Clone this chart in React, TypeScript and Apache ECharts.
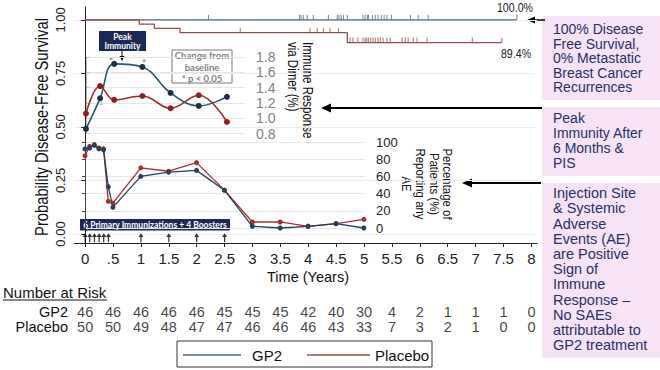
import React, { useEffect, useRef } from "react";
import * as echarts from "echarts";

// ---------- data ----------
const yearTicks = [0, 0.5, 1, 1.5, 2, 2.5, 3, 3.5, 4, 4.5, 5, 5.5, 6, 6.5, 7, 7.5, 8];
const survTicks = [0, 0.25, 0.5, 0.75, 1];

const kmGp2Times = [0, 7.74];
const kmGp2Surv = [1, 1];
const kmPlaceboTimes = [0, 0.97, 1.24, 1.7, 4.7, 7.47];
const kmPlaceboSurv = [1, 0.98, 0.96, 0.94, 0.894, 0.894];

const gp2Censor = [2.21, 3.84, 3.87, 3.91, 3.98, 4.09, 4.36, 4.52, 4.55, 4.59, 4.63, 4.7, 4.98, 5.02, 5.06, 5.08, 5.15, 5.2, 5.25, 5.31, 5.36, 5.41, 5.49, 5.83, 5.97, 6.15, 7.74];
const placeboCensor = [2.78, 4.03, 4.16, 4.27, 4.39, 4.54, 4.75, 4.8, 4.89, 4.98, 5.02, 5.05, 5.08, 5.12, 5.16, 5.2, 5.25, 5.29, 5.34, 5.41, 5.47, 5.68, 5.74, 5.79, 5.88, 5.95, 6.13, 6.94, 7.47];

const immuneTimes = [0, 0.25, 0.5, 1, 1.5, 2, 2.5];
const immuneGp2 = [0.86, 1.26, 1.71, 1.67, 1.33, 1.16, 1.28];
const immunePlacebo = [1.06, 1.42, 1.24, 1.29, 1.13, 1.3, 0.95];
const immuneTicks = [0.8, 1.0, 1.2, 1.4, 1.6, 1.8];

const aeTimes = [0, 0.083, 0.167, 0.25, 0.333, 0.417, 0.5, 1, 1.5, 2, 2.5, 3, 3.5, 4, 4.5, 5];
const aeGp2 = [92, 93, 96, 92, 91, 48, 24, 60, 65, 67, 44, 2, 0, 2, 5, 0];
const aePlacebo = [84, 95, 97, 93, 92, 31, 29, 70, 66, 76, 44, 7, 7, 2, 5, 10];

const doseTimes = [0, 0.083, 0.167, 0.25, 0.333, 0.417, 1, 1.5, 2, 2.5];

const riskGroups = ["GP2", "Placebo"];
const riskGp2 = [46, 46, 46, 46, 46, 45, 45, 45, 42, 40, 30, 4, 2, 1, 1, 1, 0];
const riskPlacebo = [50, 50, 49, 48, 47, 47, 46, 46, 46, 43, 33, 7, 3, 2, 1, 0, 0];

// ---------- styles ----------
const FONT = "'Liberation Sans', Arial, sans-serif";
const CAL = "Lato, 'Open Sans', sans-serif";
const NS = 0.82; // narrow-font compression
const C_GP2_KM = "#4d6b7f";
const C_PL_KM = "#94504b";
const C_GP2 = "#24405c";
const C_PL = "#a1302d";
const NAVY = "#1b2a55";
const PINK = "#f7e3f5";
const BOXTEXT = "#23316b";

function survAt(times: number[], surv: number[], t: number) {
  let s = surv[0];
  for (let i = 0; i < times.length; i++) if (times[i] <= t) s = surv[i];
  return s;
}

function buildOption() {
  const kmGp2 = kmGp2Times.map((t, i) => [t, kmGp2Surv[i]]);
  const kmPl = kmPlaceboTimes.map((t, i) => [t, kmPlaceboSurv[i]]);
  const censorSym = { symbol: "rect", symbolSize: [1, 5], symbolOffset: [0, -2.5] };

  const arrowUp = "path://M5,0 L10,5 L6.2,5 L6.2,12 L3.8,12 L3.8,5 L0,5 Z";

  const graphic: any[] = [
    // pink boxes
    { type: "rect", shape: { x: 542, y: 16, width: 118, height: 84 }, style: { fill: PINK } },
    { type: "rect", shape: { x: 542, y: 107, width: 118, height: 69 }, style: { fill: PINK } },
    { type: "rect", shape: { x: 542, y: 183, width: 118, height: 175 }, style: { fill: PINK } },
    { type: "text", x: 553, y: 21.7, style: { text: "100% Disease\nFree Survival,\n0% Metastatic\nBreast Cancer\nRecurrences", font: `14px ${FONT}`, fill: BOXTEXT, lineHeight: 14.6, verticalAlign: "top" } },
    { type: "text", x: 553, y: 110, style: { text: "Peak\nImmunity After\n6 Months &\nPIS", font: `14px ${FONT}`, fill: BOXTEXT, lineHeight: 15, verticalAlign: "top" } },
    { type: "text", x: 553, y: 185.5, style: { text: "Injection Site\n& Systemic\nAdverse\nEvents (AE)\nare Positive\nSign of\nImmune\nResponse \u2013\nNo SAEs\nattributable to\nGP2 treatment", font: `14.5px ${FONT}`, fill: BOXTEXT, lineHeight: 15.2, verticalAlign: "top" } },
    // arrows
    { type: "line", shape: { x1: 545, y1: 20, x2: 531, y2: 20 }, style: { stroke: "#000", lineWidth: 1.5 } },
    { type: "polygon", shape: { points: [[527, 20], [535, 16.5], [535, 23.5]] }, style: { fill: "#000" } },
    { type: "line", shape: { x1: 542, y1: 108, x2: 327, y2: 108 }, style: { stroke: "#000", lineWidth: 2 } },
    { type: "polygon", shape: { points: [[321, 108], [331, 103.5], [331, 112.5]] }, style: { fill: "#000" } },
    { type: "line", shape: { x1: 541, y1: 183, x2: 468, y2: 183 }, style: { stroke: "#000", lineWidth: 2 } },
    { type: "polygon", shape: { points: [[462, 183], [472, 178.5], [472, 187.5]] }, style: { fill: "#000" } },
    // peak immunity
    { type: "rect", shape: { x: 99, y: 31, width: 47, height: 20 }, style: { fill: NAVY } },
    { type: "text", x: 122.5, y: 36.6, style: { text: "Peak", font: `bold 8.5px ${CAL}`, fill: "#fff", align: "center", verticalAlign: "middle" } },
    { type: "text", x: 122.5, y: 45.6, style: { text: "Immunity", font: `bold 8.5px ${CAL}`, fill: "#fff", align: "center", verticalAlign: "middle" } },
    { type: "line", shape: { x1: 122, y1: 51, x2: 122, y2: 57 }, style: { stroke: "#000", lineWidth: 1 } },
    { type: "polygon", shape: { points: [[122, 61], [119.5, 56], [124.5, 56]] }, style: { fill: "#000" } },
    // change from baseline box
    { type: "rect", shape: { x: 172, y: 50, width: 60, height: 33 }, style: { fill: "#fff", stroke: "#777", lineWidth: 1 } },
    { type: "text", x: 202, y: 67, style: { text: "Change from\nbaseline\n* p < 0.05", font: `bold 9.5px ${CAL}`, fill: "#808080", lineHeight: 11.5, align: "center", verticalAlign: "middle" } },
    { type: "text", x: 111, y: 60, style: { text: "*", font: `bold 10px ${CAL}`, fill: "#808080", align: "center", verticalAlign: "middle" } },
    { type: "text", x: 144, y: 62, style: { text: "*", font: `bold 10px ${CAL}`, fill: "#808080", align: "center", verticalAlign: "middle" } },
    { type: "text", x: 101, y: 105, style: { text: "*", font: `bold 10px ${CAL}`, fill: "#808080", align: "center", verticalAlign: "middle" } },
    // inset titles (narrow look via scaleX along reading direction)
    { type: "text", x: 300.5, y: 42, rotation: -Math.PI / 2, scaleX: NS, style: { text: "Immune Response\nvia Dimer (%)", font: `14px ${FONT}`, fill: "#111", lineHeight: 15, align: "left", verticalAlign: "middle" } },
    { type: "text", x: 427, y: 184, rotation: -Math.PI / 2, scaleX: 0.88, style: { text: "Percentage of\nPatients (%)\nReporting any\nAE", font: `13px ${FONT}`, fill: "#111", lineHeight: 13.8, align: "center", verticalAlign: "middle" } },
    // immunizations box
    { type: "rect", shape: { x: 80, y: 219, width: 150, height: 11.5 }, style: { fill: NAVY } },
    { type: "text", x: 155, y: 224.9, style: { text: "6 Primary Immunizations + 4 Boosters", font: `bold 8.5px ${CAL}`, fill: "#fff", align: "center", verticalAlign: "middle" } },
    // axis titles
    { type: "text", x: 41, y: 127, rotation: Math.PI / 2, scaleX: NS, style: { text: "Probability Disease-Free Survival", font: `18px ${FONT}`, fill: "#111", align: "center", verticalAlign: "middle" } },
    { type: "text", x: 308, y: 277, style: { text: "Time (Years)", font: `14.5px ${FONT}`, fill: "#111", align: "center", verticalAlign: "middle" } },
    { type: "text", x: 515, y: 7.5, scaleX: NS, style: { text: "100.0%", font: `13px ${FONT}`, fill: "#222", align: "center", verticalAlign: "middle" } },
    { type: "text", x: 516, y: 53.5, scaleX: NS, style: { text: "89.4%", font: `13px ${FONT}`, fill: "#222", align: "center", verticalAlign: "middle" } },
    // number at risk
    { type: "text", x: 3, y: 292, style: { text: "Number at Risk", font: `15px ${FONT}`, fill: "#111", align: "left", verticalAlign: "middle" } },
    { type: "line", shape: { x1: 3, y1: 300, x2: 107, y2: 300 }, style: { stroke: "#111", lineWidth: 1 } },
    // legend
    { type: "rect", shape: { x: 177, y: 341, width: 255, height: 26 }, style: { fill: "#fff", stroke: "#333", lineWidth: 1 } },
    { type: "line", shape: { x1: 183, y1: 355, x2: 241, y2: 355 }, style: { stroke: C_GP2_KM, lineWidth: 1.5 } },
    { type: "text", x: 252, y: 355, style: { text: "GP2", font: `15px ${FONT}`, fill: "#111", align: "left", verticalAlign: "middle" } },
    { type: "line", shape: { x1: 307, y1: 355, x2: 370, y2: 355 }, style: { stroke: C_PL_KM, lineWidth: 1.5 } },
    { type: "text", x: 375, y: 355, style: { text: "Placebo", font: `15px ${FONT}`, fill: "#111", align: "left", verticalAlign: "middle" } },
  ];

  return {
    animation: false,
    backgroundColor: "#fff",
    graphic,
    grid: [
      { left: 74, right: 123, top: 7, bottom: 127 },
      { left: 86, right: 415, top: 57, bottom: 236.5 },
      { left: 85, right: 295, top: 142, bottom: 142 },
      { left: 74, right: 123, top: 304, bottom: 35 },
    ],
    xAxis: [
      {
        gridIndex: 0, type: "value", min: -0.2, max: 8.1,
        axisLine: { show: true, onZero: false, lineStyle: { color: "#222", width: 1 } },
        axisTick: { show: true, length: 4, customValues: yearTicks, lineStyle: { color: "#222" } },
        axisLabel: {
          customValues: yearTicks, margin: 8, color: "#222", fontFamily: FONT, fontSize: 15,
          formatter: (v: number) => (v > 0 && v < 1 ? String(v).replace("0.", ".") : String(v)),
        },
        splitLine: { show: false },
      },
      { gridIndex: 1, type: "value", min: 0, max: 2.82, show: false },
      { gridIndex: 2, type: "value", min: 0, max: 5.02, show: false },
      { gridIndex: 3, type: "value", min: -0.2, max: 8.1, show: false },
    ],
    yAxis: [
      {
        gridIndex: 0, type: "value", min: -0.042, max: 1.06,
        axisLine: { show: true, lineStyle: { color: "#222", width: 1 } },
        axisTick: { show: true, length: 4, customValues: survTicks, lineStyle: { color: "#222" } },
        axisLabel: { customValues: survTicks, rotate: 90, margin: 7, color: "#222", fontFamily: FONT, fontSize: 13, formatter: (v: number) => v.toFixed(2) },
        splitLine: { show: true, lineStyle: { color: "#ececec", width: 1 } },
      },
      {
        gridIndex: 1, type: "value", position: "right", min: 0.8, max: 1.8,
        axisLine: { show: true, lineStyle: { color: "#bbb" } },
        axisTick: { show: true, length: 3, customValues: immuneTicks, lineStyle: { color: "#bbb" } },
        axisLabel: { customValues: immuneTicks, margin: 11, color: "#7f7f7f", fontFamily: FONT, fontSize: 14, formatter: (v: number) => v.toFixed(1) },
        splitLine: { show: true, lineStyle: { color: "#e6e6e6" } },
      },
      {
        gridIndex: 2, type: "value", position: "right", min: 0, max: 100, interval: 20,
        axisLine: { show: true, lineStyle: { color: "#444" } },
        axisTick: { show: true, length: 3, inside: true, lineStyle: { color: "#444" } },
        axisLabel: { margin: 11, color: "#222", fontFamily: FONT, fontSize: 13 },
        splitLine: { show: true, lineStyle: { color: "#e6e6e6" } },
      },
      {
        gridIndex: 3, type: "category", inverse: true, data: riskGroups,
        axisLine: { show: false }, axisTick: { show: false },
        axisLabel: { interval: 0, margin: 6, color: "#111", fontFamily: FONT, fontSize: 14.5 },
        splitLine: { show: false },
      },
    ],
    series: [
      // KM curves
      { type: "line", xAxisIndex: 0, yAxisIndex: 0, step: "end", data: kmGp2, showSymbol: false, lineStyle: { color: C_GP2_KM, width: 1.3 }, z: 3 },
      { type: "line", xAxisIndex: 0, yAxisIndex: 0, step: "end", data: kmPl, showSymbol: false, lineStyle: { color: C_PL_KM, width: 1.3 }, z: 3 },
      { type: "scatter", xAxisIndex: 0, yAxisIndex: 0, ...censorSym, itemStyle: { color: C_GP2_KM }, data: gp2Censor.map((t) => [t, survAt(kmGp2Times, kmGp2Surv, t)]), z: 3 },
      { type: "scatter", xAxisIndex: 0, yAxisIndex: 0, ...censorSym, itemStyle: { color: C_PL_KM }, data: placeboCensor.map((t) => [t, survAt(kmPlaceboTimes, kmPlaceboSurv, t)]), z: 3 },
      // dose arrows
      { type: "scatter", xAxisIndex: 0, yAxisIndex: 0, symbol: arrowUp, symbolSize: [5, 9], itemStyle: { color: "#000" }, data: doseTimes.map((t) => [t, -0.017]), z: 4 },
      // immune inset
      { type: "line", xAxisIndex: 1, yAxisIndex: 1, smooth: 0.4, clip: false, data: immuneTimes.map((t, i) => [t, immunePlacebo[i]]), symbol: "circle", symbolSize: 6, lineStyle: { color: C_PL, width: 1.6 }, itemStyle: { color: "#8e1f1f" } },
      { type: "line", xAxisIndex: 1, yAxisIndex: 1, smooth: 0.4, clip: false, data: immuneTimes.map((t, i) => [t, immuneGp2[i]]), symbol: "circle", symbolSize: 6, lineStyle: { color: "#2d5670", width: 1.6 }, itemStyle: { color: "#1b2f4a" } },
      // AE panel
      { type: "line", xAxisIndex: 2, yAxisIndex: 2, clip: false, data: aeTimes.map((t, i) => [t, aePlacebo[i]]), symbol: "circle", symbolSize: 5, lineStyle: { color: C_PL, width: 1.3 }, itemStyle: { color: C_PL } },
      { type: "line", xAxisIndex: 2, yAxisIndex: 2, clip: false, data: aeTimes.map((t, i) => [t, aeGp2[i]]), symbol: "circle", symbolSize: 5, lineStyle: { color: C_GP2, width: 1.3 }, itemStyle: { color: C_GP2 } },
      // number at risk
      {
        type: "scatter", xAxisIndex: 3, yAxisIndex: 3, symbolSize: 1, itemStyle: { color: "transparent" },
        label: { show: true, position: "inside", color: "#111", fontFamily: FONT, fontSize: 14.5, formatter: (p: any) => String(p.value[2]) },
        data: yearTicks.map((t, i) => [t, riskGroups[0], riskGp2[i]]).concat(yearTicks.map((t, i) => [t, riskGroups[1], riskPlacebo[i]])),
      },
    ],
  };
}

export default function App() {
  const ref = useRef<HTMLDivElement>(null);
  useEffect(() => {
    if (!ref.current) return;
    const chart = echarts.init(ref.current, undefined, { renderer: "svg" });
    chart.setOption(buildOption() as any);
    return () => chart.dispose();
  }, []);
  return <div ref={ref} style={{ position: "absolute", left: 0, top: 0, width: 660, height: 370 }} />;
}
